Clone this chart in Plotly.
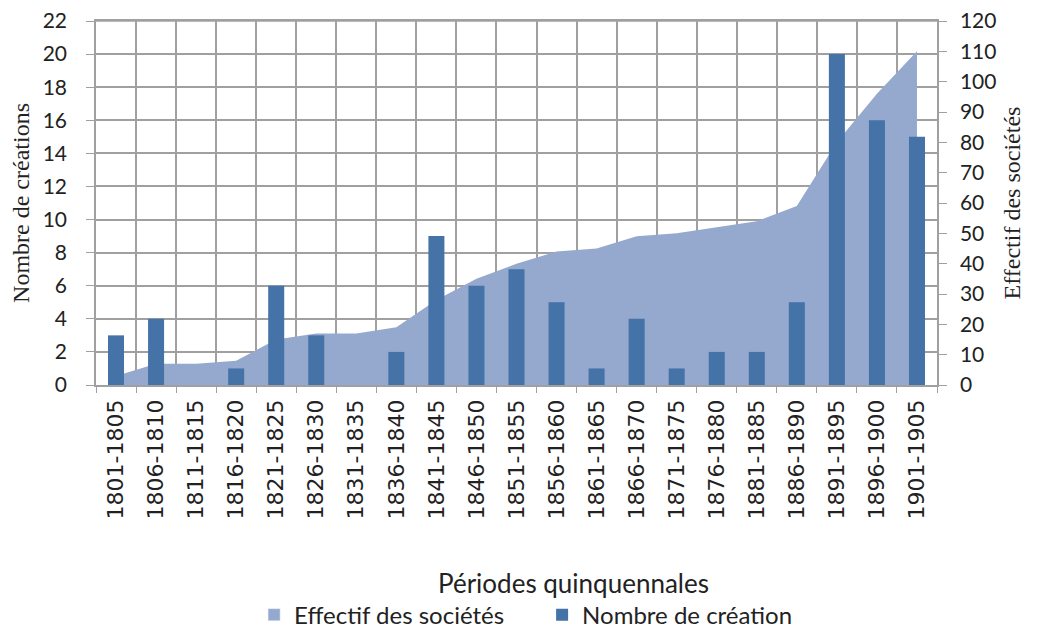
import plotly.graph_objs as go

periodes = ['1801-1805', '1806-1810', '1811-1815', '1816-1820', '1821-1825',
            '1826-1830', '1831-1835', '1836-1840', '1841-1845', '1846-1850',
            '1851-1855', '1856-1860', '1861-1865', '1866-1870', '1871-1875',
            '1876-1880', '1881-1885', '1886-1890', '1891-1895', '1896-1900',
            '1901-1905']

nombre_creation = [3, 4, 0, 1, 6, 3, 0, 2, 9, 6, 7, 5, 1, 4, 1, 2, 2, 5, 20, 16, 15]

effectif_societes = [3, 7, 7, 8, 15, 17, 17, 19, 28, 35, 40, 44, 45, 49, 50, 52,
                     54, 59, 80, 96, 110]

grid = '#a0a0a0'
txt = '#222222'
c_area = '#95a9cf'
c_bar = '#4572a7'

fig = go.Figure()

# area on the main axis (drawn underneath), shown on the right side
fig.add_trace(go.Scatter(
    x=periodes, y=effectif_societes,
    name='Effectif des sociétés',
    mode='none', fill='tozeroy', fillcolor=c_area,
    yaxis='y', showlegend=False,
))

# empty trace, only gives the area a square swatch in the legend
fig.add_trace(go.Bar(
    x=[None], y=[None],
    name='Effectif des sociétés',
    marker=dict(color=c_area),
    yaxis='y',
))

# bars on the overlaying axis so they sit on top of the area
fig.add_trace(go.Bar(
    x=periodes, y=nombre_creation,
    name='Nombre de création',
    marker=dict(color=c_bar, line=dict(width=0)),
    width=0.4,
    yaxis='y2',
))

# page body has an 8px margin, so the figure is a bit smaller than the window
fig.update_layout(
    width=1030, height=621,
    margin=dict(l=88, r=101, t=13, b=244, autoexpand=False),
    paper_bgcolor='white', plot_bgcolor='white',
    font=dict(family='Lato', color=txt, size=20),
    showlegend=True,
    legend=dict(orientation='h', x=0.188, xanchor='left', y=-0.632, yanchor='middle',
                font=dict(family='Lato', size=24), traceorder='normal',
                entrywidth=243, entrywidthmode='pixels',
                itemclick=False, itemdoubleclick=False),
    xaxis=dict(
        type='category', tickson='boundaries', showgrid=True, gridcolor=grid, gridwidth=1.5,
        tickangle=-90, tickfont=dict(family='DejaVu Sans', size=22),
        showline=True, mirror=True, linecolor=grid, linewidth=1.5,
        ticks='outside', ticklen=6, tickcolor=grid, automargin=False,
        ticklabelstandoff=4,
    ),
    yaxis=dict(
        side='right', range=[0, 120], dtick=10, showgrid=False,
        showline=True, linecolor=grid, linewidth=1.5,
        ticks='outside', ticklen=8, tickcolor=grid,
        tickfont=dict(size=21), automargin=False, ticklabelstandoff=9,
        ticklabeloverflow='allow',
        title=dict(text='Effectif des sociétés', font=dict(family='Liberation Serif', size=24),
                   standoff=8),
    ),
    yaxis2=dict(
        overlaying='y', side='left', range=[0, 22], dtick=2,
        showgrid=True, gridcolor=grid, gridwidth=1.5,
        showline=True, linecolor=grid, linewidth=1.5,
        ticks='outside', ticklen=8, tickcolor=grid,
        tickfont=dict(size=21), automargin=False, ticklabelstandoff=15,
        ticklabeloverflow='allow',
        title=dict(text='Nombre de créations', font=dict(family='Liberation Serif', size=24),
                   standoff=9),
    ),
    # top border of the plot area (gridline at 22 gets clipped by plotly)
    shapes=[dict(type='line', xref='paper', yref='paper', x0=0, x1=1, y0=1, y1=1,
                 line=dict(color=grid, width=1.5), layer='below')],
    annotations=[dict(
        text='Périodes quinquennales', xref='paper', yref='paper',
        x=0.568, y=-0.544, xanchor='center', yanchor='middle', showarrow=False,
        font=dict(family='Lato', size=26, color=txt),
    )],
)

fig.write_html("out.html")
